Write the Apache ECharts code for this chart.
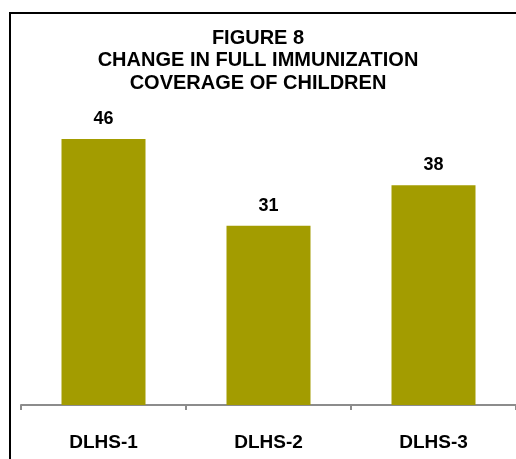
<!DOCTYPE html>
<html>
<head>
<meta charset="utf-8">
<script src="https://cdn.jsdelivr.net/npm/echarts@6/dist/echarts.min.js"></script>
<style>
  html, body { margin: 0; padding: 0; background: #fff; overflow: hidden; }
  #wrap { position: relative; width: 516px; height: 459px; overflow: hidden; }
  /* frame around the figure, cut off at right and bottom */
  #frame { position: absolute; left: 9px; top: 12px; width: 1000px; height: 1000px;
           border-left: 2px solid #000; border-top: 2px solid #000; }
  #div-chart { position: absolute; left: 0; top: 0; width: 516px; height: 459px; }
</style>
</head>
<body>
<div id="wrap">
  <div id="frame"></div>
  <div id="div-chart"></div>
</div>
<script>
var categories = ['DLHS-1', 'DLHS-2', 'DLHS-3'];
var coverage = [46, 31, 38];

var myChart = echarts.init(document.getElementById('div-chart'));

option = {
    textStyle: { fontFamily: 'Liberation Sans, Arial, sans-serif' },
    title: {
        text: 'FIGURE 8\nCHANGE IN FULL IMMUNIZATION\nCOVERAGE OF CHILDREN',
        left: 'center',
        top: 22,
        textStyle: {
            fontSize: 20,
            fontWeight: 'bold',
            color: '#000',
            lineHeight: 22.5,
            fontFamily: 'Liberation Sans, Arial, sans-serif'
        }
    },
    grid: { left: 21, right: -1, top: 116, bottom: 54 },
    xAxis: {
        type: 'category',
        data: categories,
        axisLine: { show: true, lineStyle: { color: '#8c8c8c', width: 2 } },
        axisTick: { show: true, length: 5, lineStyle: { color: '#8c8c8c', width: 2 } },
        axisLabel: {
            margin: 28,
            fontSize: 19,
            fontWeight: 'bold',
            color: '#000'
        }
    },
    yAxis: {
        type: 'value',
        min: 0,
        max: 50,
        show: false
    },
    series: [
        {
            name: 'Full immunization',
            type: 'bar',
            data: coverage,
            barWidth: 84,
            itemStyle: { color: '#a39c00' },
            label: {
                show: true,
                position: 'top',
                distance: 11,
                fontSize: 18,
                fontWeight: 'bold',
                color: '#000'
            }
        }
    ]
};

myChart.setOption(option);
</script>
</body>
</html>
